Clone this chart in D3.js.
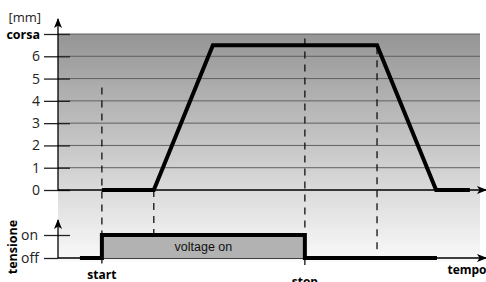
<!DOCTYPE html>
<html>
<head>
<meta charset="utf-8">
<script src="https://cdn.jsdelivr.net/npm/d3@7"></script>
<style>
  body { margin: 0; background: #fff; }
  svg { display: block; font-family: 'Open Sans', sans-serif; }
</style>
</head>
<body>
<div id="chart"></div>
<script>
// travel (mm) vs time, time in arbitrary units 0..100
const motionTimes = [10.4, 22.7, 36.7, 75.6, 89.6, 97.6];
const motionValues = [0, 0, 6.5, 6.5, 0, 0];
// voltage: 0 = off, 1 = on
const voltageTimes = [5.2, 10.4, 10.4, 58.5, 58.5, 89.8];
const voltageValues = [0, 0, 1, 1, 0, 0];
const strokeTicks = [0, 1, 2, 3, 4, 5, 6, 7];
const strokeTickLabels = ['0', '1', '2', '3', '4', '5', '6', 'corsa'];
const voltageTicks = [0, 1];
const voltageTickLabels = ['off', 'on'];
// dashed marker lines: time, top (mm), bottom (voltage units)
const markerTimes = [10.4, 22.7, 58.5, 75.6];
const markerTops = [4.6, 0, 6.8, 6.4];
const markerBottoms = [-0.45, 1, -0.3, 0.26];
const eventLabels = [{ t: 10.4, text: 'start' }, { t: 58.5, text: 'stop' }];

const width = 486;
const height = 282;

const x = d3.scaleLinear().domain([0, 100]).range([58, 480]);
const yMm = d3.scaleLinear().domain([0, 7]).range([190, 34]);
const yV = d3.scaleLinear().domain([0, 1]).range([258, 235]);

const svg = d3.select('#chart').append('svg')
  .attr('width', width)
  .attr('height', height);

const defs = svg.append('defs');
const grad = defs.append('linearGradient')
  .attr('id', 'bg')
  .attr('x1', 0).attr('y1', 0).attr('x2', 0).attr('y2', 1);
grad.append('stop').attr('offset', '0%').attr('stop-color', '#959595');
grad.append('stop').attr('offset', '68%').attr('stop-color', '#dadada');
grad.append('stop').attr('offset', '100%').attr('stop-color', '#fafafa');

defs.append('marker')
  .attr('id', 'arrow')
  .attr('viewBox', '0 0 10 10')
  .attr('refX', 9).attr('refY', 5)
  .attr('markerWidth', 10).attr('markerHeight', 10)
  .attr('markerUnits', 'userSpaceOnUse')
  .attr('orient', 'auto')
  .append('path')
  .attr('d', 'M0,1 L10,5 L0,9 L2.5,5 Z')
  .attr('fill', '#000');

// background
svg.append('rect')
  .attr('x', x(0))
  .attr('y', yMm(7))
  .attr('width', x(100) - x(0))
  .attr('height', yV(-0.17) - yMm(7))
  .attr('fill', 'url(#bg)');

// gridlines
svg.append('g')
  .selectAll('line')
  .data(strokeTicks.slice(1))
  .enter()
  .append('line')
  .attr('x1', x(0))
  .attr('x2', x(100))
  .attr('y1', d => yMm(d))
  .attr('y2', d => yMm(d))
  .attr('stroke', '#606060')
  .attr('stroke-width', 1);

// axes (ticks + labels)
const axisMm = d3.axisLeft(yMm)
  .tickValues(strokeTicks)
  .tickFormat((d, i) => strokeTickLabels[i])
  .tickSizeInner(14)
  .tickSizeOuter(0)
  .tickPadding(4);
const gMm = svg.append('g')
  .attr('transform', `translate(${x(0)},0)`)
  .call(axisMm);
gMm.select('.domain').remove();
gMm.selectAll('.tick line').attr('x1', 12).attr('stroke', '#222').attr('stroke-width', 1.3);
gMm.selectAll('.tick text')
  .attr('fill', '#222')
  .style('font-size', '14px')
  .style('font-family', "'Open Sans', sans-serif");
gMm.selectAll('.tick').filter(d => d === 7).select('text')
  .style('font-size', '12.5px')
  .style('font-weight', 'bold')
  .attr('fill', '#000');

const axisV = d3.axisLeft(yV)
  .tickValues(voltageTicks)
  .tickFormat((d, i) => voltageTickLabels[i])
  .tickSizeInner(14)
  .tickSizeOuter(0)
  .tickPadding(4);
const gV = svg.append('g')
  .attr('transform', `translate(${x(0)},0)`)
  .call(axisV);
gV.select('.domain').remove();
gV.selectAll('.tick line').attr('x1', d => (d === 1 ? 12 : 0)).attr('stroke', '#222').attr('stroke-width', 1.3);
gV.selectAll('.tick text')
  .attr('text-anchor', 'start')
  .attr('x', -37)
  .attr('fill', '#222')
  .style('font-size', '14px')
  .style('font-family', "'Open Sans', sans-serif");

// axis lines with arrows
svg.append('line')
  .attr('x1', x(0)).attr('y1', yMm(0))
  .attr('x2', x(0)).attr('y2', 19)
  .attr('stroke', '#000').attr('stroke-width', 1.3)
  .attr('marker-end', 'url(#arrow)');
svg.append('line')
  .attr('x1', x(0)).attr('y1', yMm(0))
  .attr('x2', 486).attr('y2', yMm(0))
  .attr('stroke', '#000').attr('stroke-width', 1.3)
  .attr('marker-end', 'url(#arrow)');
svg.append('line')
  .attr('x1', x(0)).attr('y1', yV(0))
  .attr('x2', x(0)).attr('y2', 220)
  .attr('stroke', '#000').attr('stroke-width', 1.3)
  .attr('marker-end', 'url(#arrow)');
svg.append('line')
  .attr('x1', x(0)).attr('y1', yV(0))
  .attr('x2', 486).attr('y2', yV(0))
  .attr('stroke', '#000').attr('stroke-width', 1.3)
  .attr('marker-end', 'url(#arrow)');

// voltage on area
svg.append('rect')
  .attr('x', x(voltageTimes[2]))
  .attr('y', yV(1))
  .attr('width', x(voltageTimes[3]) - x(voltageTimes[2]))
  .attr('height', yV(0) - yV(1))
  .attr('fill', '#b2b2b2');
svg.append('text')
  .attr('x', (x(voltageTimes[2]) + x(voltageTimes[3])) / 2)
  .attr('y', (yV(0) + yV(1)) / 2 + 4)
  .attr('text-anchor', 'middle')
  .style('font-family', "'Liberation Sans', Arial, sans-serif")
  .style('font-size', '12.5px')
  .attr('fill', '#111')
  .text('voltage on');

// dashed markers
svg.append('g')
  .selectAll('line')
  .data(markerTimes)
  .enter()
  .append('line')
  .attr('x1', d => x(d))
  .attr('x2', d => x(d))
  .attr('y1', (d, i) => yMm(markerTops[i]))
  .attr('y2', (d, i) => yV(markerBottoms[i]))
  .attr('stroke', '#111')
  .attr('stroke-width', 1.3)
  .attr('stroke-dasharray', '7,6');

// motion line
const line = d3.line().x(d => x(d[0])).y(d => yMm(d[1]));
svg.append('path')
  .datum(motionTimes.map((t, i) => [t, motionValues[i]]))
  .attr('d', line)
  .attr('fill', 'none')
  .attr('stroke', '#000')
  .attr('stroke-width', 4)
  .attr('stroke-linejoin', 'miter');

// voltage line
const vLine = d3.line().x(d => x(d[0])).y(d => yV(d[1]));
svg.append('path')
  .datum(voltageTimes.map((t, i) => [t, voltageValues[i]]))
  .attr('d', vLine)
  .attr('fill', 'none')
  .attr('stroke', '#000')
  .attr('stroke-width', 4)
  .attr('stroke-linejoin', 'miter');

// labels
svg.append('text')
  .attr('x', 41).attr('y', 22)
  .attr('text-anchor', 'end')
  .style('font-size', '13px')
  .attr('fill', '#222')
  .text('[mm]');

svg.append('text')
  .attr('transform', 'translate(17,247) rotate(-90)')
  .attr('text-anchor', 'middle')
  .style('font-size', '12.5px')
  .style('font-weight', 'bold')
  .text('tensione');

svg.selectAll('.event')
  .data(eventLabels)
  .enter()
  .append('text')
  .attr('class', 'event')
  .attr('x', d => x(d.t))
  .attr('y', (d, i) => (i === 0 ? 279 : 286))
  .attr('text-anchor', 'middle')
  .style('font-size', '12px')
  .style('font-weight', 'bold')
  .text(d => d.text);

svg.append('text')
  .attr('x', 467).attr('y', 274)
  .attr('text-anchor', 'middle')
  .style('font-size', '12px')
  .style('font-weight', 'bold')
  .text('tempo');
</script>
</body>
</html>
